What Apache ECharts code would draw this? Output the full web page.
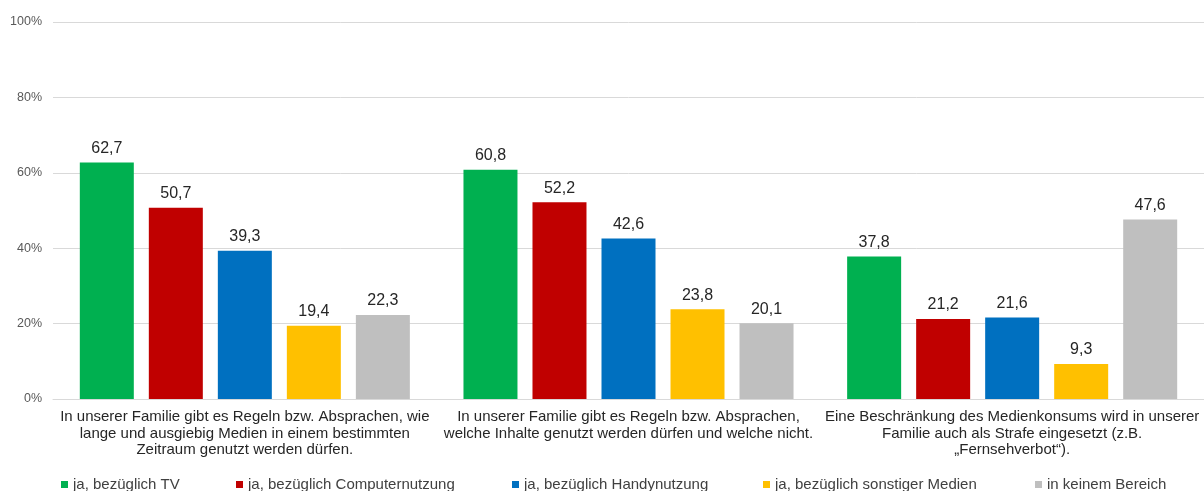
<!DOCTYPE html>
<html>
<head>
<meta charset="utf-8">
<script src="https://cdn.jsdelivr.net/npm/echarts@6/dist/echarts.min.js"></script>
<style>
html,body{margin:0;padding:0;background:#fff;}
#chart{width:1204px;height:491px;}
</style>
</head>
<body>
<div id="chart"></div>
<script>
var categories = [
  'In unserer Familie gibt es Regeln bzw. Absprachen, wie\nlange und ausgiebig Medien in einem bestimmten\nZeitraum genutzt werden dürfen.',
  'In unserer Familie gibt es Regeln bzw. Absprachen,\nwelche Inhalte genutzt werden dürfen und welche nicht.',
  'Eine Beschränkung des Medienkonsums wird in unserer\nFamilie auch als Strafe eingesetzt (z.B.\n„Fernsehverbot“).'
];
var seriesNames = ['ja, bezüglich TV', 'ja, bezüglich Computernutzung', 'ja, bezüglich Handynutzung', 'ja, bezüglich sonstiger Medien', 'in keinem Bereich'];
var tvValues = [62.7, 60.8, 37.8];
var computerValues = [50.7, 52.2, 21.2];
var handyValues = [39.3, 42.6, 21.6];
var sonstigeValues = [19.4, 23.8, 9.3];
var keinValues = [22.3, 20.1, 47.6];
var yTicks = [0, 20, 40, 60, 80, 100];

var colors = ['#00B050', '#C00000', '#0070C0', '#FFC000', '#BFBFBF'];
var allValues = [tvValues, computerValues, handyValues, sonstigeValues, keinValues];
var legendLefts = [61, 236, 512, 763, 1035];
var font = 'Liberation Sans, Arial, sans-serif';

var series = seriesNames.map(function (name, i) {
  return {
    name: name,
    type: 'bar',
    data: allValues[i],
    barWidth: 54,
    barGap: '27.8%',
    itemStyle: { color: colors[i] },
    label: {
      show: true,
      position: 'top',
      distance: 6,
      color: '#262626',
      fontFamily: font,
      fontSize: 16,
      formatter: function (p) { return p.value.toFixed(1).replace('.', ','); }
    }
  };
});

var legends = seriesNames.map(function (name, i) {
  return {
    data: [name],
    left: legendLefts[i],
    top: 477,
    icon: 'rect',
    itemWidth: 7,
    itemHeight: 7,
    padding: 0,
    textStyle: { fontFamily: font, fontSize: 15, color: '#404040' },
    selectedMode: false
  };
});

var chart = echarts.init(document.getElementById('chart'), null, { renderer: 'canvas' });
chart.setOption({
  animation: false,
  backgroundColor: '#ffffff',
  grid: { left: 53, right: 0, top: 22, bottom: 92, containLabel: false },
  legend: legends,
  xAxis: {
    type: 'category',
    data: categories,
    axisLine: { show: true, lineStyle: { color: '#D9D9D9', width: 1 } },
    axisTick: { show: false },
    axisLabel: {
      interval: 0,
      margin: 10,
      color: '#262626',
      fontFamily: font,
      fontSize: 15,
      lineHeight: 16.5,
      align: 'center'
    }
  },
  yAxis: {
    type: 'value',
    min: yTicks[0],
    max: yTicks[yTicks.length - 1],
    interval: yTicks[1] - yTicks[0],
    axisLine: { show: false },
    axisTick: { show: false },
    splitLine: { lineStyle: { color: '#D9D9D9', width: 1 } },
    axisLabel: {
      margin: 11,
      color: '#595959',
      fontFamily: font,
      fontSize: 12.5,
      formatter: '{value}%'
    }
  },
  series: series
});
</script>
</body>
</html>
